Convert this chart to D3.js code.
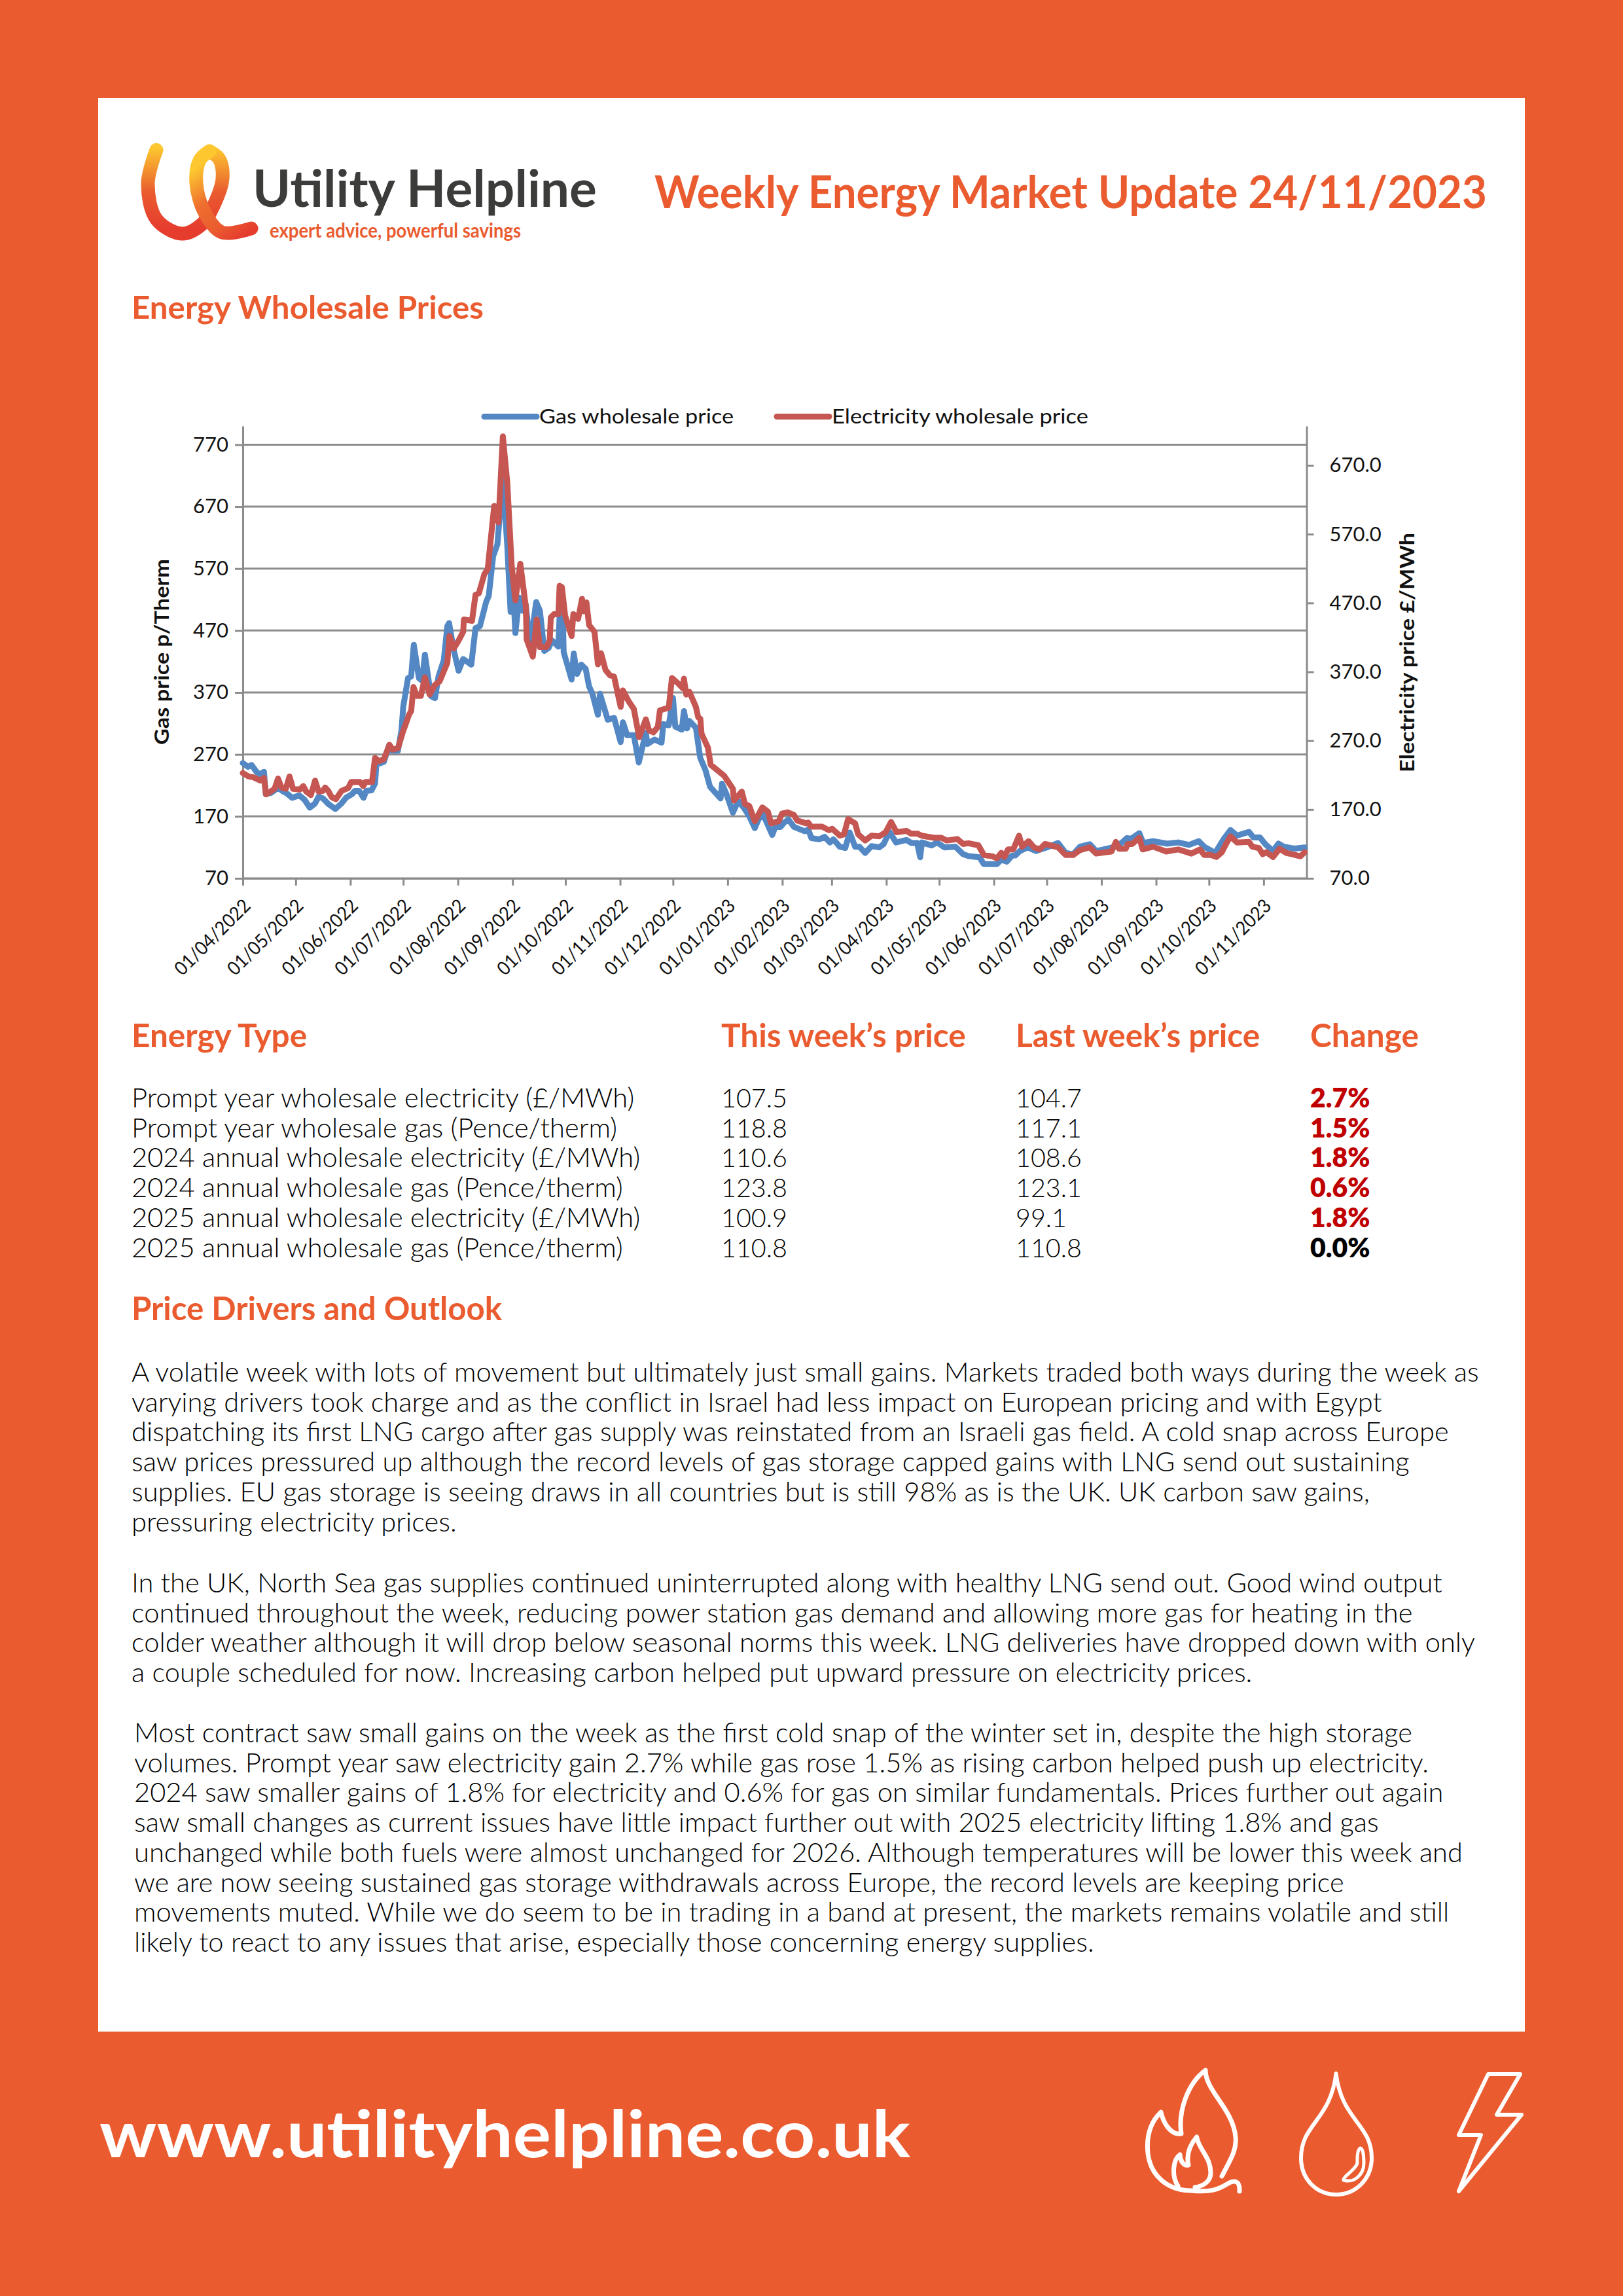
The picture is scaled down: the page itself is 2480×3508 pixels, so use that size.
<!DOCTYPE html>
<html><head><meta charset="utf-8">
<script src="https://cdn.jsdelivr.net/npm/d3@7"></script>
<style>html,body{margin:0;padding:0;background:#EA5B2F}svg{display:block}text{font-family:Lato,sans-serif}</style>
</head><body><div id="c"></div>
<script>
const gasSeries=[[0,256],[3,250],[5,253],[8,241],[10,238],[12,242],[13,206],[16,208],[20,216],[22.5,211],[25,207],[28,200],[32,204],[35,197],[38,184],[41,191],[43,202],[45.5,199],[48.5,190],[52.5,182],[56,191],[58.5,200],[62,206],[63.5,211],[66,211],[68.5,200],[70,211],[73,212],[75,223],[76,262],[77,255],[80,258],[83,285],[84,276],[88,276],[90,309],[91,347],[93.7,393],[95.5,396],[97,447],[99.9,393],[101.7,389],[103.3,431],[106.7,364],[109,361],[111,396],[114,422],[116,477],[117,482],[119.7,438],[122.4,405],[125,424],[129.6,415],[132,474],[134.5,477],[138,516],[139.5,526],[142,590],[144.4,609],[147.5,716],[150,607],[151.9,500],[153.7,516],[154.6,466],[156.8,523],[158.6,502],[160.5,512],[163,445],[166.4,516],[168.5,502],[171,437],[173.5,442],[175.4,454],[179,444],[179.7,495],[181.5,498],[182,435],[186.5,391],[187.7,433],[189.6,400],[192,415],[194.5,408],[196.4,380],[198.3,368],[201.4,334],[202.6,368],[207,326],[210.6,329],[214.3,290],[215.6,322],[218,301],[221.8,301],[224.6,257],[228.6,305],[229.5,287],[233.5,294],[237.5,289],[238.5,319],[241.6,317],[244,361],[245.3,315],[249,310],[250.2,340],[252,312],[253.3,324],[257,313],[259.4,265],[262.5,244],[265,218],[271,199],[271.8,223],[274.3,206],[278,176],[281,195],[284.4,183],[287.3,170],[290.4,151],[292.8,167],[295.3,172],[300.3,140],[302,153],[305,153],[307,160],[309.5,165],[312.6,153],[318.8,146],[320.7,149],[322.5,135],[327,133],[330,137],[333,128],[335,133],[338.6,121],[341.7,119],[344.2,144],[347.3,121],[349.8,121],[353,111],[356.6,122],[361,120],[363.4,125],[366.8,145],[370.5,128],[376.4,132],[379.3,127],[382.5,127],[384.2,104],[385.2,128],[390.6,123],[393.7,128],[398,120],[404.2,121],[408.5,109],[411.6,106],[417.8,104],[420.3,93],[427.7,93],[430.2,100],[433.3,97],[436.4,107],[438.2,107],[440.7,114],[445,120],[450,114],[453.7,118],[456.2,120],[462.4,127],[466.7,111],[471,109],[474.8,121],[480.4,125],[484,114],[493.4,120],[498.3,127],[501.4,135],[503.9,134],[508.5,143],[510.7,127],[516.3,130],[524.3,126],[530.5,128],[536.7,124],[542.2,130],[545.3,121],[551.5,111],[556.5,134],[560.2,148],[563.9,139],[570.7,145],[573.2,136],[576.9,136],[580,125],[584.3,114],[587.4,126],[590.5,121],[596.7,118],[602.3,120]];
const elecSeries=[[0,223],[3.3,218],[5.8,217],[10,212],[12,216],[13.2,192],[16.3,197],[18,200],[20,215],[21.9,202],[24.4,200],[26.5,218],[28.5,200],[32.4,199],[34.3,204],[36,196],[38.6,191],[41,212],[43,196],[45.4,197],[46.7,202],[48.5,197],[50.4,188],[52.8,185],[56,197],[59.7,201],[61.5,210],[66.5,210],[68.3,204],[69.6,210],[73.3,210],[75,245],[77,240],[80,243],[83.2,264],[85,257],[88,259],[90.6,281],[94.3,308],[95.5,313],[96.8,348],[98.7,335],[101,335],[103.3,362],[106,337],[109,351],[111.6,356],[116,383],[117.2,422],[119.7,404],[122.1,414],[125,428],[125.4,446],[130,444],[132,482],[133.9,484],[137,512],[138.9,519],[142.6,611],[145,587],[147.5,712],[150,645],[152.5,525],[154.6,474],[157.4,527],[160.5,465],[161,417],[164.5,392],[166.7,446],[168.5,406],[172.3,406],[174.1,416],[174.7,449],[176.6,454],[179,454],[179.7,495],[181,493],[182.8,452],[186.5,422],[187.5,454],[190.2,447],[192.4,476],[193.3,458],[194.9,471],[196.4,438],[199.5,428],[201.4,381],[203.2,397],[205.7,373],[208.2,365],[210.6,363],[214.3,319],[215.6,343],[218.7,328],[221.8,316],[224.8,275],[228.6,301],[230.4,285],[232.9,282],[235.4,290],[236.6,314],[241.6,318],[243.4,361],[247,353],[249.6,346],[250.2,360],[251.5,337],[253.3,341],[257,319],[258.3,304],[259.5,302],[260.2,280],[263.8,260],[265.4,235],[273,219],[278,200],[278.6,183],[283,196],[284.8,178],[287.3,175],[290.4,153],[294.7,173],[297.8,167],[299.6,150],[304,153],[305.8,164],[309,166],[312.6,162],[314.5,154],[319.5,150],[320.7,151],[322.3,145],[328.7,145],[332.4,140],[334.3,142],[338.6,132],[341,134],[343.3,156],[347.3,150],[349,134],[353,125],[356.6,132],[361,131],[364.6,137],[367.7,152],[370.8,137],[376.4,139],[378.9,135],[382.6,135],[385,132],[391.9,129],[396.2,129],[399.3,125],[405.4,127],[408.5,120],[411.6,121],[417.2,118],[420.3,104],[425.2,102],[427.7,99],[430.2,107],[432,101],[434,112],[437,112],[440.3,132],[442,116],[445.7,124],[448.8,115],[451.9,112],[455,120],[462.4,115],[466.7,104],[471,104],[474.8,111],[480.4,115],[484,106],[492.7,109],[495.2,123],[497,113],[500.8,113],[502,120],[504.5,120],[508.5,129],[510.4,112],[516.3,116],[523.7,109],[530.5,112],[538,106],[542.9,112],[545.3,104],[549,104],[552.2,101],[555.3,108],[557.7,120],[560.2,131],[563.9,122],[570.7,123],[572.6,116],[576.3,114],[578.5,105],[580.6,108],[584.3,101],[588,113],[591.8,107],[596.7,104],[599.8,102],[602.3,108]];
const xTickLabels=["01/04/2022","01/05/2022","01/06/2022","01/07/2022","01/08/2022","01/09/2022","01/10/2022","01/11/2022","01/12/2022","01/01/2023","01/02/2023","01/03/2023","01/04/2023","01/05/2023","01/06/2023","01/07/2023","01/08/2023","01/09/2023","01/10/2023","01/11/2023"];
const gasTicks=[70,170,270,370,470,570,670,770];
const elecTicks=[70,170,270,370,470,570,670];
const seriesNames=["Gas wholesale price","Electricity wholesale price"];
const tableHeaders=["Energy Type","This week’s price","Last week’s price","Change"];
const tableRows=[
["Prompt year wholesale electricity (£/MWh)","107.5","104.7","2.7%"],
["Prompt year wholesale gas (Pence/therm)","118.8","117.1","1.5%"],
["2024 annual wholesale electricity (£/MWh)","110.6","108.6","1.8%"],
["2024 annual wholesale gas (Pence/therm)","123.8","123.1","0.6%"],
["2025 annual wholesale electricity (£/MWh)","100.9","99.1","1.8%"],
["2025 annual wholesale gas (Pence/therm)","110.8","110.8","0.0%"]];
const para1=["A volatile week with lots of movement but ultimately just small gains. Markets traded both ways during the week as","varying drivers took charge and as the conflict in Israel had less impact on European pricing and with Egypt","dispatching its first LNG cargo after gas supply was reinstated from an Israeli gas field. A cold snap across Europe","saw prices pressured up although the record levels of gas storage capped gains with LNG send out sustaining","supplies. EU gas storage is seeing draws in all countries but is still 98% as is the UK. UK carbon saw gains,","pressuring electricity prices."];
const para2=["In the UK, North Sea gas supplies continued uninterrupted along with healthy LNG send out. Good wind output","continued throughout the week, reducing power station gas demand and allowing more gas for heating in the","colder weather although it will drop below seasonal norms this week. LNG deliveries have dropped down with only","a couple scheduled for now. Increasing carbon helped put upward pressure on electricity prices."];
const para3=["Most contract saw small gains on the week as the first cold snap of the winter set in, despite the high storage","volumes. Prompt year saw electricity gain 2.7% while gas rose 1.5% as rising carbon helped push up electricity.","2024 saw smaller gains of 1.8% for electricity and 0.6% for gas on similar fundamentals. Prices further out again","saw small changes as current issues have little impact further out with 2025 electricity lifting 1.8% and gas","unchanged while both fuels were almost unchanged for 2026. Although temperatures will be lower this week and","we are now seeing sustained gas storage withdrawals across Europe, the record levels are keeping price","movements muted. While we do seem to be in trading in a band at present, the markets remains volatile and still","likely to react to any issues that arise, especially those concerning energy supplies."];

const ORANGE="#EA5B2F",BLUE="#5388C4",RED="#C55652",GRID="#8C8C8C",DARK="#000";
const svg=d3.select("#c").append("svg").attr("width",2480).attr("height",3508).attr("viewBox","0 0 2480 3508");
svg.append("rect").attr("width",2480).attr("height",3508).attr("fill",ORANGE);
svg.append("rect").attr("x",150).attr("y",150).attr("width",2180).attr("height",2954).attr("fill","#fff");

function txt(s,x,y,size,o={}){
  const t=svg.append("text").attr("x",x).attr("y",y).attr("font-size",size).attr("font-weight",o.w||400).attr("fill",o.c||DARK).text(s);
  if(o.anchor)t.attr("text-anchor",o.anchor);
  if(o.len)t.attr("textLength",o.len).attr("lengthAdjust","spacingAndGlyphs");
  if(o.tf)t.attr("transform",o.tf);
  return t;
}
// header
txt("Weekly Energy Market Update 24/11/2023",1000,318,69,{w:700,c:ORANGE,len:1272});
txt("Energy Wholesale Prices",201,487,48,{w:700,c:ORANGE,len:538});

// logo
const defs=svg.append("defs");
const g1=defs.append("linearGradient").attr("id","lg1").attr("gradientUnits","userSpaceOnUse").attr("x1",0).attr("x2",0).attr("y1",225).attr("y2",350);
[[0,"#FDC82F"],[.35,"#F0842F"],[.55,"#EA5B2F"],[1,"#E53C2E"]].forEach(d=>g1.append("stop").attr("offset",d[0]).attr("stop-color",d[1]));
const g2=defs.append("linearGradient").attr("id","lg2").attr("gradientUnits","userSpaceOnUse").attr("x1",310).attr("x2",380).attr("y1",250).attr("y2",355);
[[0,"#FDC82F"],[.4,"#EE6F2F"],[.75,"#EA5B2F"],[1,"#E53C2E"]].forEach(d=>g2.append("stop").attr("offset",d[0]).attr("stop-color",d[1]));
const logoLine=d3.line().curve(d3.curveCatmullRom.alpha(.5));
svg.append("path").attr("d",logoLine([[239,229],[226,280],[239,335],[278,357],[308,343],[326,315],[340,273],[335,243],[320,231]])).attr("fill","none").attr("stroke","url(#lg1)").attr("stroke-width",21).attr("stroke-linecap","round");
svg.append("path").attr("d",logoLine([[320,231],[305,245],[300,280],[313,325],[339,355],[384,349]])).attr("fill","none").attr("stroke","url(#lg2)").attr("stroke-width",21).attr("stroke-linecap","round");
txt("Utility Helpline",386,316,78,{w:700,c:"#3C3C3B",len:526});
txt("expert advice, powerful savings",412,363,30,{w:700,c:ORANGE,len:384});

// chart
const start=new Date(2022,3,1);
const day=d=>start.getTime()+d*864e5;
const parse=d3.timeParse("%d/%m/%Y");
const x=d3.scaleTime().domain([start,new Date(day(603.4))]).range([371,1996.6]);
const yG=d3.scaleLinear().domain([70,800]).range([1342,651]);
const yE=d3.scaleLinear().domain([70,727]).range([1342,651]);
const chart=svg.append("g");
chart.append("g").selectAll("line").data(gasTicks).join("line").attr("x1",371).attr("x2",1996.6).attr("y1",d=>yG(d)).attr("y2",d=>yG(d)).attr("stroke",GRID).attr("stroke-width",3);
const styleAxis=g=>{g.selectAll("path.domain").attr("stroke",GRID).attr("stroke-width",3);g.selectAll(".tick line").attr("stroke",GRID).attr("stroke-width",3);g.selectAll("text").attr("fill","#111").attr("font-family","Lato,sans-serif");};
chart.append("g").attr("transform","translate(371,0)").call(d3.axisLeft(yG).tickValues(gasTicks).tickSize(12).tickSizeOuter(0).tickPadding(10).tickFormat(d3.format("d"))).call(styleAxis).attr("font-size",31);
chart.append("g").attr("transform","translate(1996.6,0)").call(d3.axisRight(yE).tickValues(elecTicks).tickSize(11).tickSizeOuter(0).tickPadding(24).tickFormat(d3.format(".1f"))).call(styleAxis).attr("font-size",31);
const xAxis=chart.append("g").attr("transform","translate(0,1342)").call(d3.axisBottom(x).tickValues(xTickLabels.map(parse)).tickSize(11).tickSizeOuter(0).tickFormat(d3.timeFormat("%d/%m/%Y"))).call(styleAxis).attr("font-size",29);
xAxis.selectAll(".tick text").attr("text-anchor","end").attr("dy",0).attr("y",0).attr("textLength",150).attr("lengthAdjust","spacingAndGlyphs").attr("transform","translate(13,44) rotate(-45)");
const ln=(scale)=>d3.line().x(d=>x(new Date(day(d[0])))).y(d=>scale(d[1])).curve(d3.curveLinear);
chart.append("path").attr("d",ln(yG)(gasSeries)).attr("fill","none").attr("stroke",BLUE).attr("stroke-width",9).attr("stroke-linejoin","round").attr("stroke-linecap","round");
chart.append("path").attr("d",ln(yE)(elecSeries)).attr("fill","none").attr("stroke",RED).attr("stroke-width",9).attr("stroke-linejoin","round").attr("stroke-linecap","round");
// legend
[[740,820,824,1121-824,BLUE],[1187,1267,1271,1663-1271,RED]].forEach((l,i)=>{
  svg.append("line").attr("x1",l[0]).attr("x2",l[1]).attr("y1",636.5).attr("y2",636.5).attr("stroke",l[4]).attr("stroke-width",9).attr("stroke-linecap","round");
  txt(seriesNames[i],l[2],647,31,{c:"#111",len:l[3]});
});
txt("Gas price p/Therm",0,0,30,{w:700,c:"#111",anchor:"middle",len:284,tf:"translate(258,996) rotate(-90)"});
txt("Electricity price £/MWh",0,0,30,{w:700,c:"#111",anchor:"middle",len:366,tf:"translate(2161,997) rotate(-90)"});

// table
const cols=[201,1102,1552,2002];
tableHeaders.forEach((h,i)=>txt(h,cols[i],1600,49.5,{w:700,c:ORANGE}));
tableRows.forEach((r,j)=>{
  const y=1692+j*45.7;
  r.forEach((v,i)=>{
    const last=i==3;
    txt(v,cols[i],y,i==0?41.7:last?41:39.5,{w:last?800:300,c:last?(v=="0.0%"?"#000":"#C00000"):DARK});
  });
});
txt("Price Drivers and Outlook",201,2017,49,{w:700,c:ORANGE,len:566});
// paragraphs
[[para1,201,2111],[para2,201,2433],[para3,205,2662]].forEach(p=>{
  p[0].forEach((s,i)=>txt(s,p[1],p[2]+i*45.7,41.7,{w:300}));
});
// footer
txt("www.utilityhelpline.co.uk",152,3296,100,{w:700,c:"#fff",len:1239});
// icons
const icons=svg.append("g").attr("fill","none").attr("stroke","#fff").attr("stroke-width",7).attr("stroke-linejoin","round").attr("stroke-linecap","round");
icons.append("path").attr("d","M2274,3169L2323,3169L2287,3231L2325,3231L2229,3348L2263,3262L2229,3262Z").attr("stroke-width",6);
icons.append("path").attr("d","M2041.5,3168C2033,3240 1988,3245 1988,3297C1988,3330 2012,3353 2041.5,3353C2071,3353 2096,3330 2096,3297C2096,3245 2050,3240 2041.5,3168Z").attr("stroke-width",6);
icons.append("path").attr("d","M2078.6,3282C2073,3285 2074,3300 2074,3305C2072,3315 2052,3325 2053,3331C2070,3336 2084,3322 2084,3305C2084,3295 2083,3282 2078.6,3282Z").attr("stroke-width",5);
icons.append("path").attr("d","M1867,3325C1880,3300 1890,3285 1888,3265C1884,3222 1842,3195 1842,3163C1815,3183 1800,3225 1805,3260C1790,3263 1778,3245 1774,3227C1755,3245 1752,3270 1754,3290C1758,3325 1785,3347 1820,3347C1850,3350 1862,3345 1875,3337C1885,3331 1895,3330 1894,3348");
icons.append("path").attr("d","M1800,3340C1790,3325 1792,3300 1803,3292C1803,3300 1808,3310 1816,3308C1812,3290 1820,3275 1828.6,3265C1832,3285 1850,3295 1850,3320C1850,3332 1840,3340 1826,3342");
</script></body></html>
